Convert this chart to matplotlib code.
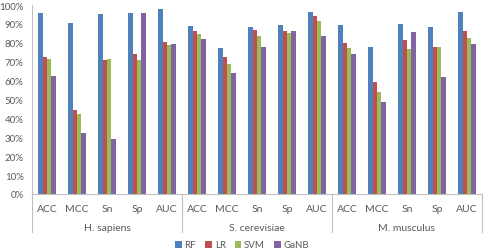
import matplotlib
matplotlib.use('Agg')
import matplotlib.pyplot as plt
import numpy as np
from matplotlib.ticker import FuncFormatter, MultipleLocator

species = ['H. sapiens', 'S. cerevisiae', 'M. musculus']
metrics = ['ACC', 'MCC', 'Sn', 'Sp', 'AUC']
methods = ['RF', 'LR', 'SVM', 'GaNB']

# values in percent, ordered species x metric
rf = [95.6, 90.6, 95.4, 95.8, 98.1,
      89.1, 77.4, 88.5, 89.2, 96.1,
      89.2, 77.8, 89.8, 88.4, 96.3]
lr = [72.3, 44.4, 70.9, 73.9, 80.2,
      86.4, 72.7, 86.8, 86.2, 94.4,
      79.9, 59.1, 81.7, 77.8, 86.2]
svm = [71.3, 42.3, 71.6, 71.1, 78.8,
       84.7, 68.8, 83.8, 85.4, 91.5,
       77.1, 53.8, 76.7, 77.8, 82.4]
ganb = [62.3, 32.1, 28.9, 95.6, 79.4,
        82.0, 64.0, 77.8, 86.2, 83.8,
        73.9, 48.5, 85.9, 61.7, 79.4]

colors = ['#4F81BD', '#C0504D', '#9BBB59', '#8064A2']
grey = '#595959'
line_c = '#BFBFBF'

plt.rcParams['font.family'] = ['Lato', 'DejaVu Sans']
plt.rcParams['font.size'] = 7

fig = plt.figure(figsize=(4.84, 2.53), dpi=100)
ax = fig.add_axes([32 / 484, 1 - 195 / 253, 450 / 484, 189 / 253])

n = len(rf)
x = np.arange(n)
w = 0.145
for i, (vals, c, lab) in enumerate(zip([rf, lr, svm, ganb], colors, methods)):
    ax.bar(x + (i - 1.5) * w, vals, width=w * 0.95, color=c, label=lab)

ax.set_xlim(-0.5, n - 0.5)
ax.set_ylim(0, 100)
ax.yaxis.set_major_locator(MultipleLocator(10))
ax.yaxis.set_major_formatter(FuncFormatter(lambda v, p: '%d%%' % v))
ax.tick_params(axis='y', length=0, colors=grey, labelsize=7, pad=6)
ax.tick_params(axis='x', length=0, colors=grey, labelsize=7.5, pad=7)
ax.set_xticks(x)
ax.set_xticklabels(metrics * len(species))

for s in ['top', 'right', 'left']:
    ax.spines[s].set_visible(False)
ax.spines['bottom'].set_color(line_c)

# group separators and labels
trans = ax.get_xaxis_transform()
for g in range(len(species) + 1):
    xs = g * 5 - 0.5
    ax.plot([xs, xs], [1.0 if g == 0 else 0, -0.2], color=line_c, lw=0.8,
            transform=trans, clip_on=False)
for g, sp in enumerate(species):
    ax.text(g * 5 + 2, -0.175, sp, transform=trans, ha='center', va='center',
            color=grey, fontsize=7.5)

fig.legend(loc='center', bbox_to_anchor=(0.5, 1 - 246 / 253), ncol=4, frameon=False,
           fontsize=7, handlelength=0.7, handleheight=0.7, handletextpad=0.3,
           columnspacing=0.9, labelcolor=grey)

plt.savefig('out.png', dpi=100)
